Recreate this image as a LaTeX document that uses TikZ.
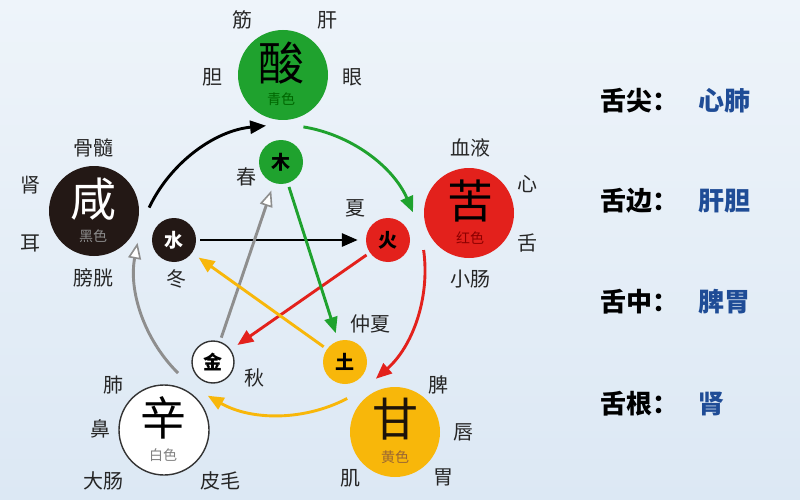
\documentclass[tikz,border=0pt]{standalone}
\usepackage{fontspec}
\setmainfont{Noto Sans CJK SC}
\usetikzlibrary{arrows.meta}
\definecolor{wgreen}{HTML}{1FA22E}
\definecolor{wred}{HTML}{E3211C}
\definecolor{wyellow}{HTML}{F8B70A}
\definecolor{wdark}{HTML}{231815}
\definecolor{wgray}{HTML}{8E8E8E}
\definecolor{wblue}{HTML}{1F4C96}
\definecolor{bgtop}{HTML}{EEF4FA}
\definecolor{bgbot}{HTML}{DCE8F4}
\begin{document}
\begin{tikzpicture}[x=1pt,y=-1pt,
  big/.style={circle, minimum size=90pt, inner sep=0pt},
  small/.style={circle, minimum size=44pt, inner sep=0pt, font=\fontsize{19}{19}\selectfont\bfseries},
  organ/.style={font=\fontsize{20}{20}\selectfont, text=black!85},
  mainch/.style={font=\fontsize{46}{46}\selectfont},
  sech/.style={font=\fontsize{14}{14}\selectfont},
  conn/.style={line width=2.9pt},
  tip/.style={-{Triangle[length=16pt,width=13pt]}},
  opentip/.style={-{Triangle[length=16pt,width=13pt,fill=white,line width=1.6pt]}},
  star/.style={conn, shorten <=4pt, shorten >=8pt},
  tongue/.style={font=\fontsize{26}{26}\selectfont\bfseries, anchor=west},
  tval/.style={font=\fontsize{26}{26}\selectfont\bfseries, anchor=west, text=wblue}
]
\useasboundingbox (0,0) rectangle (800,500);
\fill[top color=bgtop, bottom color=bgbot] (0,0) rectangle (800,500);

% big circles
\node[big, fill=wgreen] (suan) at (283,75) {};
\node[mainch] (suanc) at (281,63) {酸};
\node[sech, text=green!40!black] (suans) at (281,99) {青色};

\node[big, fill=wdark] (xian) at (94,211) {};
\node[mainch, text=white] (xianc) at (93,199) {咸};
\node[sech, text=gray!90] (xians) at (93,236) {黑色};

\node[big, fill=wred] (ku) at (469,213) {};
\node[mainch] (kuc) at (470,201) {苦};
\node[sech, text=red!55!black] (kus) at (470,238) {红色};

\node[big, fill=wyellow] (gan) at (395,432) {};
\node[mainch, text=black!85!brown] (ganc) at (395,419) {甘};
\node[sech, text=brown!80!black] (gans) at (395,457) {黄色};

\node[big, fill=white, draw=black!80, line width=1.4pt] (xin) at (164,430) {};
\node[mainch] (xinc) at (163,418) {辛};
\node[sech, text=gray] (xins) at (163,455) {白色};

% small circles
\node[small, fill=wgreen] (mu) at (281,162) {木};
\node[small, fill=wred] (huo) at (388,240) {火};
\node[small, fill=wdark, text=white] (shui) at (174,240) {水};
\node[small, fill=wyellow] (tu) at (345,362) {土};
\node[small, fill=white, draw=black!80, line width=1.4pt, minimum size=42pt] (jin) at (213,362) {金};

% seasons
\node[organ] (chun) at (246,177) {春};
\node[organ] (xia) at (355,208) {夏};
\node[organ] (dong) at (176,279) {冬};
\node[organ] (zhongxia) at (370,324) {仲夏};
\node[organ] (qiu) at (254,378) {秋};

% organs
\node[organ] (jinl) at (242,20) {筋};
\node[organ] (gan1) at (327,20) {肝};
\node[organ] (dan) at (212,77) {胆};
\node[organ] (yan) at (352,77) {眼};

\node[organ] (gusui) at (93,148) {骨髓};
\node[organ] (shen) at (30,185) {肾};
\node[organ] (er) at (30,243) {耳};
\node[organ] (pangguang) at (93,278) {膀胱};

\node[organ] (xueye) at (470,148) {血液};
\node[organ] (xin1) at (527,184) {心};
\node[organ] (she) at (527,243) {舌};
\node[organ] (xiaochang) at (470,279) {小肠};

\node[organ] (pi) at (438,385) {脾};
\node[organ] (chun1) at (463,432) {唇};
\node[organ] (ji) at (350,478) {肌};
\node[organ] (wei) at (443,477) {胃};

\node[organ] (fei) at (113,385) {肺};
\node[organ] (bi) at (100,429) {鼻};
\node[organ] (dachang) at (103,481) {大肠};
\node[organ] (pimao) at (220,481) {皮毛};

% outer arcs
\coordinate (ctr) at (280,270);
\draw[conn, black, tip] (ctr) ++(-154.5:145) arc[start angle=-154.5, end angle=-95.5, radius=145];
\draw[conn, wgreen, tip] (ctr) ++(-80.7:145) arc[start angle=-80.7, end angle=-23.4, radius=145];
\draw[conn, wred, tip] (ctr) ++(-7.9:145) arc[start angle=-7.9, end angle=48.6, radius=145];
\draw[conn, wyellow, tip] (ctr) ++(62.4:145) arc[start angle=62.4, end angle=119.9, radius=145];
\draw[conn, wgray, opentip] (ctr) ++(134.7:145) arc[start angle=134.7, end angle=190.8, radius=145];

% star arrows
\draw[star, black, tip] (shui) -- (huo);
\draw[star, wred, tip] (huo) -- (jin);
\draw[star, wgray, opentip] (jin) -- (mu);
\draw[star, wgreen, tip] (mu) -- (tu);
\draw[star, wyellow, tip] (tu) -- (shui);

% tongue legend
\node[tongue] (t1) at (597,101) {舌尖：};
\node[tval] (v1) at (695,101) {心肺};
\node[tongue] (t2) at (597,201) {舌边：};
\node[tval] (v2) at (695,201) {肝胆};
\node[tongue] (t3) at (597,302) {舌中：};
\node[tval] (v3) at (695,302) {脾胃};
\node[tongue] (t4) at (597,404) {舌根：};
\node[tval] (v4) at (695,404) {肾};
\end{tikzpicture}
\end{document}
